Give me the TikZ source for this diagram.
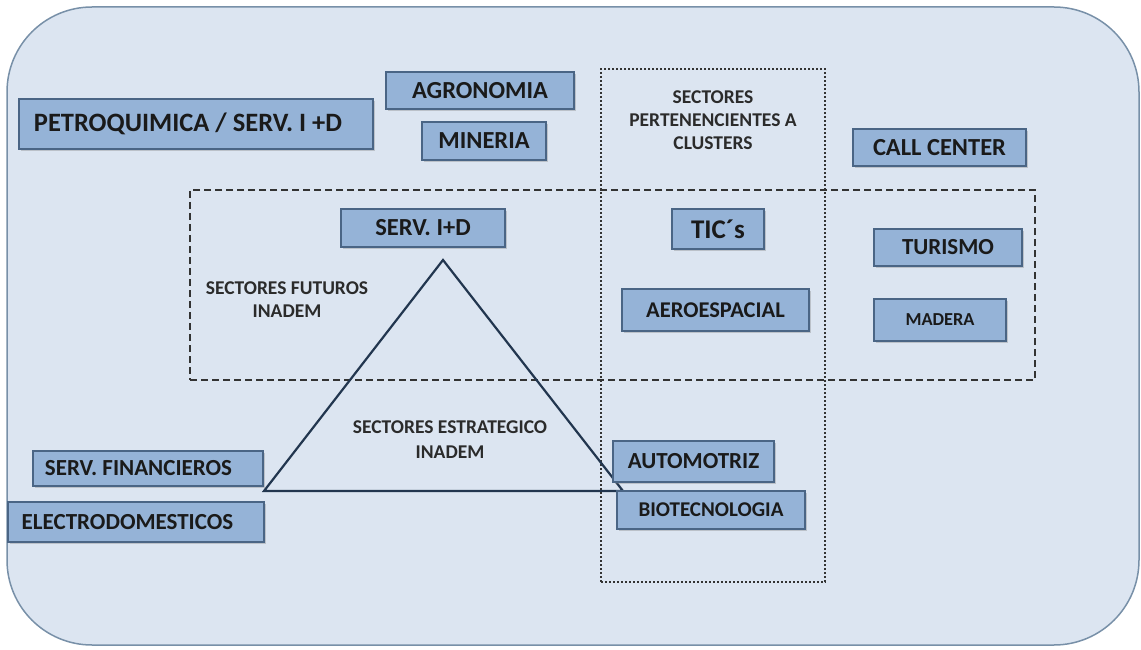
\documentclass[tikz,border=0pt]{standalone}
\usepackage{fontspec}
\setmainfont{Carlito}
\usetikzlibrary{shadows}
\definecolor{bgfill}{HTML}{DCE5F1}
\definecolor{bgline}{HTML}{7890A8}
\definecolor{boxfill}{HTML}{95B3D7}
\definecolor{boxline}{HTML}{4A6585}
\definecolor{triline}{HTML}{22364F}
\definecolor{txt}{HTML}{1A1A1A}
\definecolor{lbl}{HTML}{2B2B2B}
\newcommand{\fsz}[1]{\bfseries\fontsize{#1}{#1}\selectfont}
\tikzset{
  sbox/.style={draw=boxline, fill=boxfill, line width=1.2pt, inner sep=0pt,
    text=txt, font=\fsz{23},
    drop shadow={opacity=0.35, shadow xshift=2pt, shadow yshift=-2pt}},
  slabel/.style={align=center, text=lbl, font=\bfseries\fontsize{19.5}{23}\selectfont},
  dashedframe/.style={draw=black!80, dash pattern=on 7pt off 4pt, line width=2.2pt},
  dottedframe/.style={draw=black!80, line width=2pt, dash pattern=on 2pt off 2pt},
  triedge/.style={draw=triline, line width=2.2pt, line join=miter}
}
\begin{document}
\begin{tikzpicture}[x=1pt,y=-1pt]
\useasboundingbox (0,0) rectangle (1141,650);
% outer frame
\node[draw=bgline, fill=bgfill, line width=1.5pt, rounded corners=85pt,
  minimum width=1132pt, minimum height=638pt, inner sep=0pt] (frame) at (573,326) {};
% frames
\node[dashedframe, minimum width=845pt, minimum height=190pt, inner sep=0pt] (futuros) at (612.5,285) {};
\node[dottedframe, minimum width=224pt, minimum height=513pt, inner sep=0pt] (clusters) at (713,325.5) {};
% triangle
\coordinate (apex) at (443,260);
\coordinate (tl) at (264,491);
\coordinate (tr) at (623,491);
\draw[triedge] (apex) -- (tl) -- (tr) -- cycle;
% labels
\node[slabel] (lfut) at (287,300) {SECTORES FUTUROS\\INADEM};
\node[slabel] (lclu) at (713,120) {SECTORES\\PERTENENCIENTES A\\CLUSTERS};
\node[slabel, font=\bfseries\fontsize{19.5}{25}\selectfont] (lest) at (450,440) {SECTORES ESTRATEGICO\\INADEM};
% boxes
\node[sbox, minimum width=354pt, minimum height=50pt, font=\fsz{26.5}] (petro) at (196,124) {\hspace*{-16pt}PETROQUIMICA / SERV. I +D};
\node[sbox, minimum width=188pt, minimum height=37pt, font=\fsz{24.5}] (agro) at (480,90.5) {AGRONOMIA};
\node[sbox, minimum width=124pt, minimum height=38pt, font=\fsz{24.5}] (mineria) at (484,141) {MINERIA};
\node[sbox, minimum width=164pt, minimum height=38pt, font=\fsz{24.5}] (servid) at (423,228) {SERV. I+D};
\node[sbox, minimum width=173pt, minimum height=37pt, font=\fsz{24.5}] (callc) at (939.5,147.5) {CALL CENTER};
\node[sbox, minimum width=92pt, minimum height=40pt, font=\fsz{27}] (tics) at (718,229) {TIC´s};
\node[sbox, minimum width=148pt, minimum height=37pt] (turismo) at (948,247.5) {TURISMO};
\node[sbox, minimum width=187pt, minimum height=42pt, font=\fsz{22.5}] (aero) at (715.5,310) {AEROESPACIAL};
\node[sbox, minimum width=132pt, minimum height=42pt, font=\fsz{18.3}] (madera) at (940,320) {MADERA};
\node[sbox, minimum width=230pt, minimum height=35pt] (servfin) at (148,468.5) {\hspace*{-19pt}SERV. FINANCIEROS};
\node[sbox, minimum width=256pt, minimum height=40pt] (electro) at (136,522) {\hspace*{-17pt}ELECTRODOMESTICOS};
\node[sbox, minimum width=161pt, minimum height=41pt] (auto) at (693.5,461.5) {AUTOMOTRIZ};
\node[sbox, minimum width=188pt, minimum height=38pt, font=\fsz{21}] (biotec) at (711,510) {BIOTECNOLOGIA};
\end{tikzpicture}
\end{document}
